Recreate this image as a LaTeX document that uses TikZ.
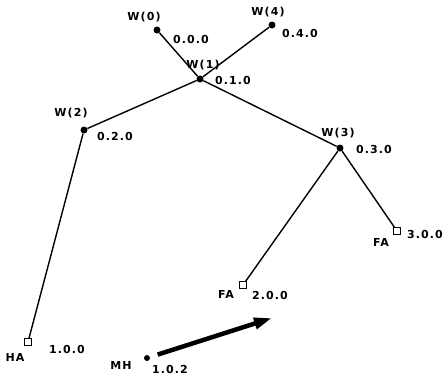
\documentclass[tikz,border=0pt]{standalone}
\usepackage{fontspec}
\newfontfamily\lblfont[LetterSpace=10]{DejaVu Sans Bold}
\usepackage{tikz}
\usetikzlibrary{arrows.meta, positioning}

\begin{document}
\begin{tikzpicture}[
  x=1pt, y=-1pt,
  every node/.style={font=\lblfont\fontsize{11}{12}\selectfont},
  dot/.style={circle, fill=black, inner sep=0pt, minimum size=7pt},
  host/.style={rectangle, draw=black, fill=white, line width=1.1pt,
               inner sep=0pt, minimum size=6.5pt},
  link/.style={line width=1.4pt},
  move/.style={-{Triangle[length=18pt, width=11pt]}, line width=4.5pt}
]
  \useasboundingbox (0,0) rectangle (445,376);

  % wireless nodes
  \node[dot] (w0) at (157, 30) {};
  \node[dot] (w4) at (272, 25) {};
  \node[dot] (w1) at (200, 79) {};
  \node[dot] (w2) at (84, 130) {};
  \node[dot] (w3) at (340,148) {};

  % agents
  \node[host] (fa3) at (397,231) {};
  \node[host] (fa2) at (243,285) {};
  \node[host] (ha)  at (28, 342) {};
  \node[dot, minimum size=6pt] (mh) at (147,358) {};

  \draw[link] (w0) -- (w1);
  \draw[link] (w4) -- (w1);
  \draw[link] (w1) -- (w2);
  \draw[link] (w1) -- (w3);
  \draw[link] (w2) -- (ha);
  \draw[link] (w3) -- (fa2);
  \draw[link] (w3) -- (fa3);

  % names
  \node (w0_n)  at (144, 17) {W(0)};
  \node (w4_n)  at (268, 12) {W(4)};
  \node (w1_n)  at (203, 65) {W(1)};
  \node (w2_n)  at (71, 113) {W(2)};
  \node (w3_n)  at (338,133) {W(3)};
  \node (fa3_n) at (381,242) {FA};
  \node (fa2_n) at (226,294) {FA};
  \node (ha_n)  at (15, 357) {HA};
  \node (mh_n)  at (121,365) {MH};

  % addresses
  \node (w0_a)  at (191, 39) {0.0.0};
  \node (w4_a)  at (300, 33) {0.4.0};
  \node (w1_a)  at (233, 80) {0.1.0};
  \node (w2_a)  at (115,136) {0.2.0};
  \node (w3_a)  at (374,149) {0.3.0};
  \node (fa3_a) at (425,234) {3.0.0};
  \node (fa2_a) at (270,295) {2.0.0};
  \node (ha_a)  at (67, 349) {1.0.0};
  \node (mh_a)  at (170,369) {1.0.2};

  % movement of the mobile host
  \coordinate (mh_to) at (272,318);
  \draw[move, shorten <=8pt] (mh) -- (mh_to);
\end{tikzpicture}
\end{document}
